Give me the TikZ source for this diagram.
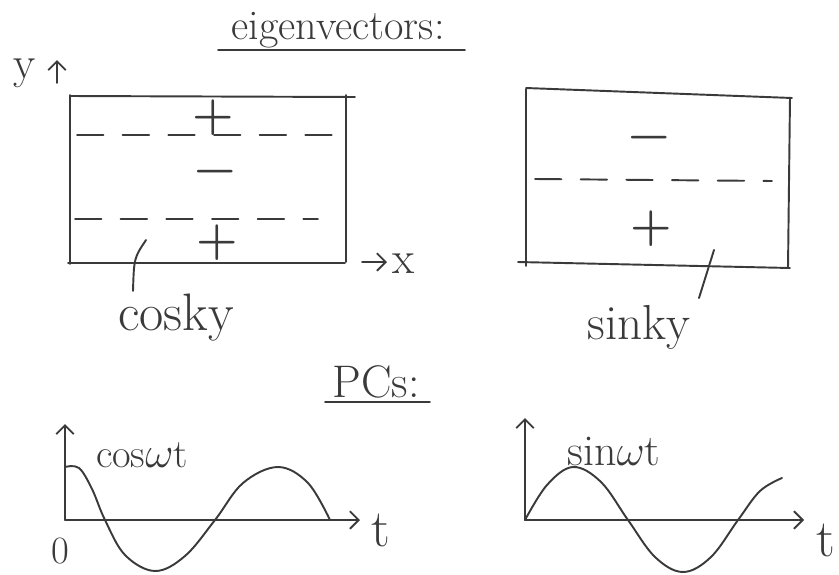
\documentclass[tikz,border=0pt]{standalone}
\usepackage{fontspec}
\usetikzlibrary{arrows.meta}
\definecolor{ink}{HTML}{3A3A3A}
\newcommand\handsize[1]{\fontsize{#1}{#1}\selectfont}
\tikzset{
  pen/.style={line width=1.1pt, draw=ink, line cap=round, line join=round},
  fence/.style={pen, dash pattern=on 15pt off 11pt},
  tip/.style={pen, -{Straight Barb[length=5pt,width=10pt,line width=1.1pt]}},
  word/.style={text=ink, inner sep=1pt, font=\handsize{#1}},
  sign/.style={text=ink, inner sep=0pt, font=\handsize{27}\bfseries}
}
\begin{document}
\begin{tikzpicture}[x=0.02cm,y=-0.02cm]
   \useasboundingbox (0,0) rectangle (839,575);
   % headings
   \node[word=24] (eig) at (338,30) {eigenvectors:};
   \draw[pen] (218,50) -- (465,50);
   \node[word=26] (pcs) at (376,382) {PCs:};
   \draw[pen] (325,402) -- (430,402);

   % left eigenvector: cos ky
   \node[word=26] (ylab) at (25,73) {y};
   \coordinate (ybot) at (57,83);
   \coordinate (ytop) at (57,60);
   \draw[tip] (ybot) -- (ytop);
   \draw[pen] (70,96) -- (355,97);
   \draw[pen] (70,95) -- (70,264);
   \draw[pen] (346,95) -- (346,262);
   \draw[pen] (68,263) -- (345,263);
   \draw[fence] (77,135) -- (338,135);
   \draw[fence] (75,219) -- (318,219);
   \foreach \x/\y/\s/\n in {213/118/+/pa, 215/177/\textminus/ma, 217/243/+/pb}
     \node[sign] (\n) at (\x,\y) {\s};
   \coordinate (xbeg) at (362,262);
   \coordinate (xend) at (387,262);
   \draw[tip] (xbeg) -- (xend);
   \node[word=26] (xlab) at (404,264) {x};
   \node[word=30] (cosky) at (176,318) {cosky};
   \coordinate (cpt) at (146,240);
   \draw[pen] (cpt) .. controls (134,258) .. (133,291);

   % right eigenvector: sin ky
   \draw[pen] (526,88) -- (792,98);
   \draw[pen] (526,89) -- (526,266);
   \draw[pen] (790,98) -- (788,268);
   \draw[pen] (518,262) -- (790,268);
   \draw[fence] (535,179) -- (772,181);
   \node[sign] (mb) at (649,143) {\textminus};
   \node[sign] (pc) at (651,229) {+};
   \node[word=28] (sinky) at (639,327) {sinky};
   \coordinate (spt) at (714,250);
   \draw[pen] (spt) -- (699,298);

   % left PC: cos wt
   \coordinate (o1) at (65,520);
   \draw[tip] (o1) -- (65,424);
   \draw[tip] (o1) -- (360,520);
   \node[word=22] (zero) at (60,551) {0};
   \node[word=30] (t1) at (381,530) {t};
   \node[word=23] (coswt) at (142,455) {cos$\omega$t};
   \draw[pen] plot[smooth, tension=0.6] coordinates
     {(65,467) (79,468) (92,489) (105,520) (125,555) (155,571) (185,556)
      (215,520) (243,483) (278,467) (308,483) (330,520)};

   % right PC: sin wt
   \coordinate (o2) at (525,520);
   \draw[tip] (o2) -- (525,418);
   \draw[tip] (o2) -- (804,520);
   \node[word=30] (t2) at (826,540) {t};
   \node[word=25] (sinwt) at (614,452) {sin$\omega$t};
   \draw[pen] plot[smooth, tension=0.6] coordinates
     {(525,520) (547,485) (573,467) (601,482) (628,520) (655,557) (683,572)
      (711,557) (738,520) (760,491) (782,478)};
\end{tikzpicture}
\end{document}
